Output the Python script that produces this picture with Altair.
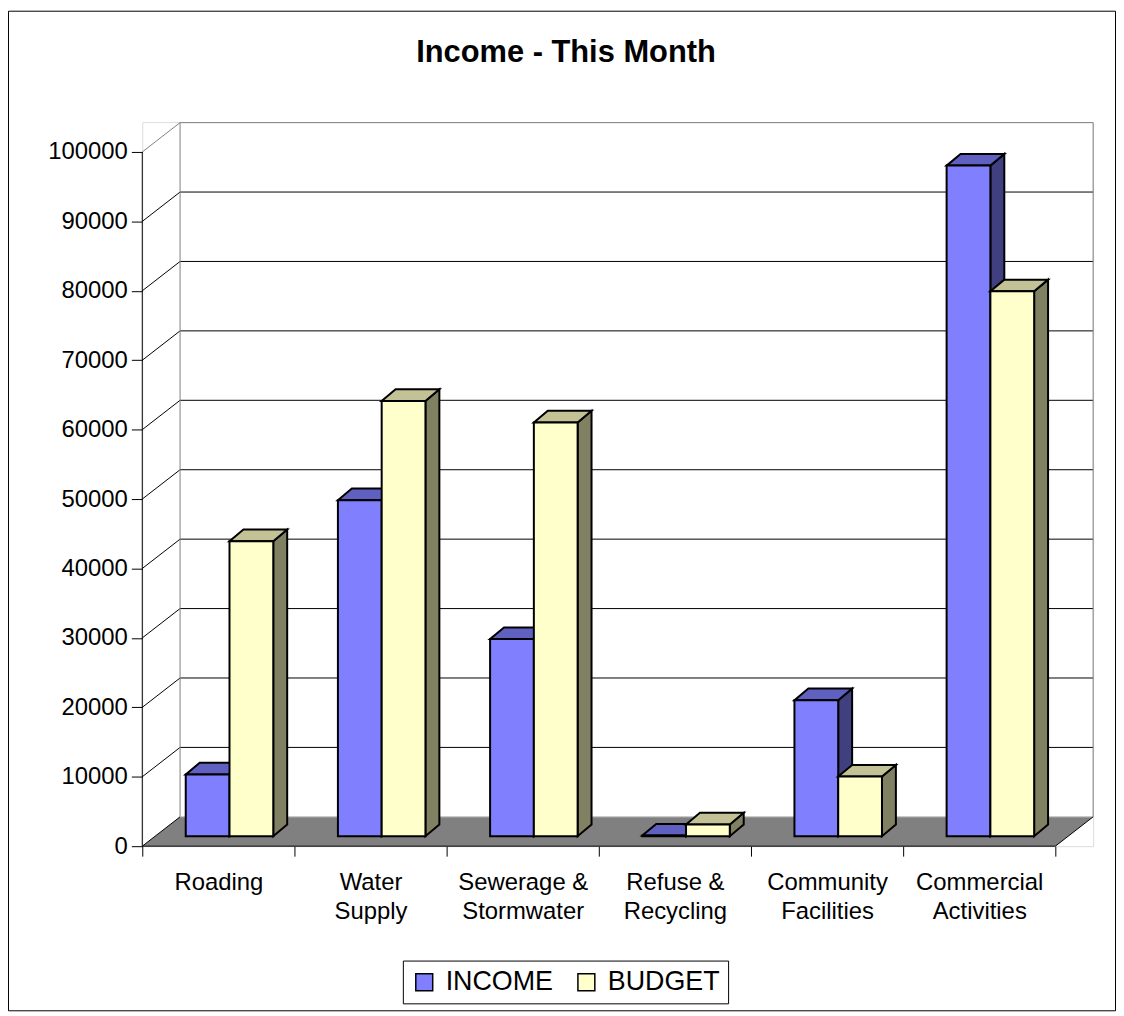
import json
import altair as alt
import pandas as pd

# ---------------- data ----------------
categories = ["Roading", "Water Supply", "Sewerage & Stormwater",
              "Refuse & Recycling", "Community Facilities", "Commercial Activities"]
label_lines = [["Roading"], ["Water", "Supply"], ["Sewerage &", "Stormwater"],
               ["Refuse &", "Recycling"], ["Community", "Facilities"], ["Commercial", "Activities"]]
income = [8900, 48400, 28400, 100, 19600, 96600]
budget = [42500, 62700, 59600, 1700, 8600, 78500]
series = ["INCOME", "BUDGET"]
y_ticks = list(range(0, 100001, 10000))

# ---------------- geometry / style ----------------
F = "Liberation Sans"
W, H = 956, 728
NCAT = len(categories)
CATPX = 153.0
XMAX = W / CATPX
YMAX = 104300.0
PXV = H / YMAX
DX = 38 / CATPX          # wall depth (x units)
DV = 29.5 / PXV          # wall depth (value units)
BAR_L0 = 43.7 / CATPX
BAR_W = 44.0 / CATPX
BASE = 10.0 / PXV
BDX = 14.0 / CATPX
BDV = 11.7 / PXV

front_col = {"INCOME": "#8080FF", "BUDGET": "#FFFFCC"}
top_col = {"INCOME": "#6060C0", "BUDGET": "#C2C296"}
side_col = {"INCOME": "#404080", "BUDGET": "#808062"}

xscale = alt.Scale(domain=[0, XMAX], nice=False, zero=False)
yscale = alt.Scale(domain=[0, YMAX], nice=False, zero=False)

xaxis = alt.Axis(values=list(range(NCAT + 1)),
                 labelExpr=json.dumps(label_lines) + "[datum.value] || ''",
                 labelOffset=CATPX / 2, labelFlush=False, labelOverlap=False,
                 domain=False, grid=False, tickSize=10, tickColor="black",
                 labelFontSize=24, labelFont=F, labelColor="black",
                 labelPadding=15, labelLineHeight=29, title=None)
yaxis = alt.Axis(values=y_ticks, format="d", domain=False, grid=False,
                 tickSize=11, tickColor="black", labelFontSize=24, labelFont=F,
                 labelColor="black", labelPadding=4, title=None)


def X(f):
    return alt.X(f, type="quantitative", scale=xscale, axis=xaxis)


def Y(f):
    return alt.Y(f, type="quantitative", scale=yscale, axis=yaxis)


# ---------------- walls, grid, floor ----------------
back_rows = []
for k in y_ticks[1:]:
    c = "#808080" if k == y_ticks[-1] else "black"
    for o, (x, v) in enumerate([(0, k), (DX, k + DV), (NCAT + DX, k + DV)]):
        back_rows.append({"id": f"g{k}", "o": o, "x": x, "v": v, "c": c})
for name, xx in [("wl", DX), ("wr", NCAT + DX)]:
    back_rows.append({"id": name, "o": 0, "x": xx, "v": DV, "c": "#808080"})
    back_rows.append({"id": name, "o": 1, "x": xx, "v": y_ticks[-1] + DV, "c": "#808080"})
back_df = pd.DataFrame(back_rows)

front_segs = [
    ("fl", [(0, 0), (DX, DV)], "black"),
    ("fb", [(DX, DV), (NCAT + DX, DV)], "#C0C0C0"),
    ("fr", [(NCAT, 0), (NCAT + DX, DV)], "black"),
    ("ax", [(0, 0), (NCAT, 0)], "black"),
    ("ay", [(0, 0), (0, y_ticks[-1])], "black"),
]
front_rows = []
for name, pts, c in front_segs:
    for o, (x, v) in enumerate(pts):
        front_rows.append({"id": name, "o": o, "x": x, "v": v, "c": c})
front_df = pd.DataFrame(front_rows)

floor_df = pd.DataFrame({"v": [0, DV], "x": [0, DX], "x2": [NCAT, NCAT + DX]})


def line_layer(df):
    return alt.Chart(df).mark_line(strokeWidth=1).encode(
        x=X("x"), y=Y("v"), detail="id:N", order="o:Q",
        color=alt.Color("c:N", scale=None))


back_lines = line_layer(back_df)
front_lines = line_layer(front_df)
floor = alt.Chart(floor_df).mark_area(orient="horizontal", color="#808080").encode(
    y=Y("v"), x=X("x"), x2="x2:Q")

# ---------------- bars ----------------
rows = []
for i, cat in enumerate(categories):
    for s, (name, vals) in enumerate(zip(series, [income, budget])):
        rows.append({"i": i, "cat": cat, "s": s, "series": name,
                     "value": vals[i], "bid": f"{i}-{s}"})
bars_df = pd.DataFrame(rows)

col_expr = lambda d: (f"datum.series == 'INCOME' ? '{d['INCOME']}' : '{d['BUDGET']}'")

base_bar = alt.Chart(bars_df).transform_calculate(
    left=f"datum.i + {BAR_L0} + datum.s * {BAR_W}",
    right=f"datum.i + {BAR_L0} + (datum.s + 1) * {BAR_W}",
    base=f"{BASE}",
    top=f"{BASE} + datum.value",
)

layers = []
for s in [0, 1]:
    b = base_bar.transform_filter(f"datum.s == {s}")
    bk = b.transform_calculate(k="[0, 1]").transform_flatten(["k"])
    side = bk.transform_calculate(
        sx=f"datum.right + datum.k * {BDX}",
        sy=f"datum.top + datum.k * {BDV}",
        sy2=f"datum.base + datum.k * {BDV}",
        sc=col_expr(side_col),
    ).mark_area(orient="vertical", stroke="black", strokeWidth=2, strokeJoin="miter").encode(
        x=X("sx"), y=Y("sy"), y2="sy2:Q", detail="bid:N",
        fill=alt.Fill("sc:N", scale=None))
    topf = bk.transform_calculate(
        tx=f"datum.left + datum.k * {BDX}",
        tx2=f"datum.right + datum.k * {BDX}",
        ty=f"datum.top + datum.k * {BDV}",
        tc=col_expr(top_col),
    ).mark_area(orient="horizontal", stroke="black", strokeWidth=2, strokeJoin="miter").encode(
        y=Y("ty"), x=X("tx"), x2="tx2:Q", detail="bid:N",
        fill=alt.Fill("tc:N", scale=None))
    front = b.mark_rect(stroke="black", strokeWidth=2).encode(
        x=X("left:Q"), x2="right:Q", y=Y("base:Q"), y2="top:Q",
        fill=alt.Fill("series:N",
                      scale=alt.Scale(domain=series, range=[front_col[n] for n in series]),
                      legend=alt.Legend(orient="none", legendX=262, legendY=843,
                                        direction="horizontal", title=None,
                                        symbolType="square", symbolSize=289,
                                        symbolStrokeColor="black", symbolStrokeWidth=1.5,
                                        symbolOpacity=1, labelFontSize=27, labelFont=F,
                                        labelColor="black", labelLimit=400,
                                        strokeColor="black", fillColor="white",
                                        padding=8, columnPadding=20, labelOffset=8)))
    layers += [side, topf, front]

# ---------------- frame ----------------
frame = alt.Chart(pd.DataFrame({"a": [0]})).mark_rect(
    fillOpacity=0, stroke="black", strokeWidth=1).encode(
    x=alt.value(-134.5), x2=alt.value(W + 22.5),
    y=alt.value(-111.5), y2=alt.value(H + 165.5))

chart = alt.layer(back_lines, floor, front_lines, *layers, frame).properties(
    width=W, height=H,
    autosize=alt.AutoSizeParams(type="none"),
    padding={"left": 135, "top": 112, "right": 23, "bottom": 166},
    title=alt.TitleParams("Income - This Month", font=F, fontSize=31, fontWeight="bold",
                          color="black", anchor="middle", frame="group", dx=-52,
                          offset=-83, baseline="alphabetic"),
).configure_view(strokeWidth=0).configure(background="white")

chart.save("out.html", embed_options={"renderer": "svg", "actions": False})
